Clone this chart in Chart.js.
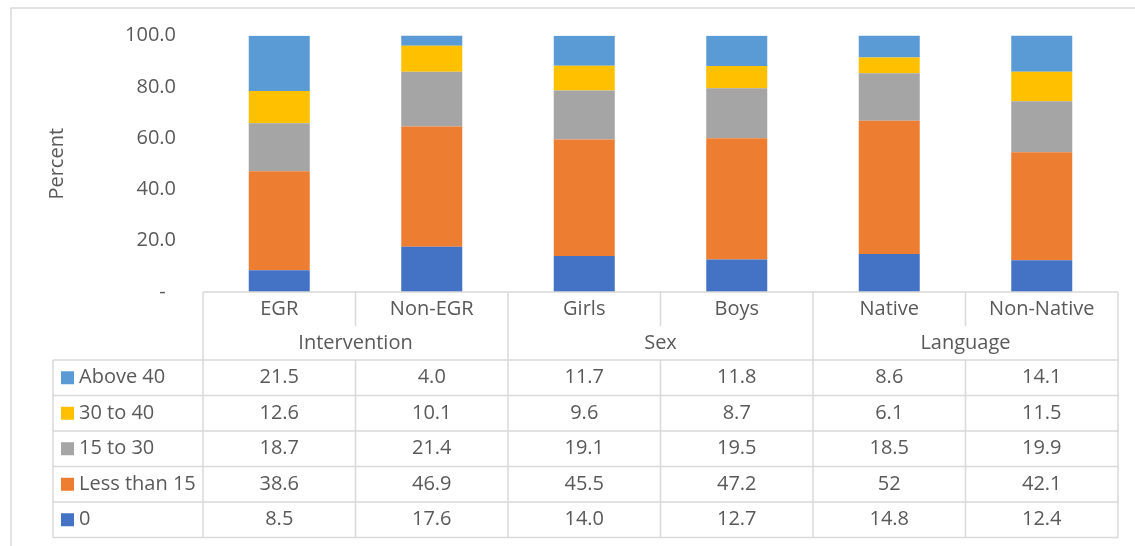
<!DOCTYPE html>
<html>
<head>
<meta charset="utf-8">
<script src="https://cdn.jsdelivr.net/npm/chart.js@4/dist/chart.umd.min.js"></script>
<style>
  html, body { margin: 0; padding: 0; background: #fff; }
  #wrap { position: relative; width: 1135px; height: 546px; }
</style>
</head>
<body>
<div id="wrap"><canvas id="chart"></canvas></div>
<script>
// Categories and their groups (group name, first index, last index)
const categories = ['EGR', 'Non-EGR', 'Girls', 'Boys', 'Native', 'Non-Native'];
const groups = [['Intervention', 0, 1], ['Sex', 2, 3], ['Language', 4, 5]];

// Series values as shown in the data table
const zero = ['8.5', '17.6', '14.0', '12.7', '14.8', '12.4'];
const lessThan15 = ['38.6', '46.9', '45.5', '47.2', '52', '42.1'];
const from15to30 = ['18.7', '21.4', '19.1', '19.5', '18.5', '19.9'];
const from30to40 = ['12.6', '10.1', '9.6', '8.7', '6.1', '11.5'];
const above40 = ['21.5', '4.0', '11.7', '11.8', '8.6', '14.1'];

const yTickLabels = ['-  ', '20.0', '40.0', '60.0', '80.0', '100.0'];

const TEXT = '#595959';
const LINE = '#d9d9d9';
const FONT = "'Open Sans', sans-serif";
const FONT_SIZE = 20;

// stacked bottom to top
const series = [
    { label: '0', values: zero, color: '#4472C4' },
    { label: 'Less than 15', values: lessThan15, color: '#ED7D31' },
    { label: '15 to 30', values: from15to30, color: '#A5A5A5' },
    { label: '30 to 40', values: from30to40, color: '#FFC000' },
    { label: 'Above 40', values: above40, color: '#5B9BD5' }
];

// Frame around the whole chart
const framePlugin = {
    id: 'frame',
    beforeDraw(chart) {
        const ctx = chart.ctx;
        ctx.save();
        ctx.strokeStyle = LINE;
        ctx.lineWidth = 1.5;
        ctx.strokeRect(11, 8, 1200, 600);
        ctx.restore();
    }
};

// Data table under the plot, Excel style
const dataTablePlugin = {
    id: 'dataTable',
    afterDraw(chart) {
        const ctx = chart.ctx;
        const x = chart.scales.x;
        const area = chart.chartArea;
        const colW = (area.right - area.left) / categories.length;
        const edge = i => area.left + i * colW;

        const top = area.bottom;
        const headerBottom = top + 34;
        const groupBottom = headerBottom + 34;
        const rowH = 35.5;
        const rows = series.slice().reverse();
        const tableBottom = groupBottom + rowH * rows.length;
        const legendLeft = 53;

        ctx.save();
        ctx.strokeStyle = LINE;
        ctx.lineWidth = 1.5;
        ctx.beginPath();
        // top line of the header
        ctx.moveTo(area.left, top);
        ctx.lineTo(area.right, top);
        // horizontal lines of the data rows
        for (let r = 0; r <= rows.length; r++) {
            const y = groupBottom + r * rowH;
            ctx.moveTo(legendLeft, y);
            ctx.lineTo(area.right, y);
        }
        // left edge of legend column
        ctx.moveTo(legendLeft, groupBottom);
        ctx.lineTo(legendLeft, tableBottom);
        // column edges, inner ones skip the group row
        const groupEdges = new Set();
        groups.forEach(g => { groupEdges.add(g[1]); groupEdges.add(g[2] + 1); });
        for (let i = 0; i <= categories.length; i++) {
            const xx = edge(i);
            if (groupEdges.has(i)) {
                ctx.moveTo(xx, top);
                ctx.lineTo(xx, tableBottom);
            } else {
                ctx.moveTo(xx, top);
                ctx.lineTo(xx, headerBottom);
                ctx.moveTo(xx, groupBottom);
                ctx.lineTo(xx, tableBottom);
            }
        }
        ctx.stroke();

        ctx.fillStyle = TEXT;
        ctx.font = FONT_SIZE + 'px ' + FONT;
        ctx.textAlign = 'center';
        ctx.textBaseline = 'middle';

        categories.forEach((c, i) => {
            ctx.fillText(c, x.getPixelForValue(i), (top + headerBottom) / 2);
        });
        groups.forEach(g => {
            const cx = (edge(g[1]) + edge(g[2] + 1)) / 2;
            ctx.fillText(g[0], cx, (headerBottom + groupBottom) / 2);
        });

        rows.forEach((s, r) => {
            const cy = groupBottom + r * rowH + rowH / 2;
            ctx.textAlign = 'center';
            ctx.fillStyle = TEXT;
            s.values.forEach((v, i) => {
                ctx.fillText(v, x.getPixelForValue(i), cy);
            });
            // legend key
            ctx.fillStyle = s.color;
            ctx.fillRect(legendLeft + 8, cy - 6.5, 13, 13);
            ctx.fillStyle = TEXT;
            ctx.textAlign = 'left';
            ctx.fillText(s.label, legendLeft + 26, cy);
        });
        ctx.restore();
    }
};

Chart.defaults.font.family = FONT;
Chart.defaults.font.size = FONT_SIZE;
Chart.defaults.color = TEXT;

new Chart(document.getElementById('chart'), {
    type: 'bar',
    data: {
        labels: categories,
        datasets: series.map(s => ({
            label: s.label,
            data: s.values.map(Number),
            backgroundColor: s.color,
            borderWidth: 0,
            barPercentage: 0.4,
            categoryPercentage: 1.0
        }))
    },
    options: {
        responsive: true,
        maintainAspectRatio: false,
        animation: false,
        layout: {
            padding: { left: 45, right: 17, top: 35.5, bottom: 254 }
        },
        plugins: {
            legend: { display: false },
            tooltip: { enabled: false }
        },
        scales: {
            x: {
                stacked: true,
                display: false
            },
            y: {
                stacked: true,
                min: 0,
                max: 100,
                border: { display: false },
                grid: { display: false, drawTicks: false },
                ticks: {
                    stepSize: 20,
                    padding: 27,
                    callback: (v, i) => yTickLabels[i]
                },
                title: {
                    display: true,
                    text: 'Percent',
                    padding: 0
                },
                afterFit(axis) {
                    axis.width = 203 - 45;
                    // the large tick padding would otherwise push the plot down
                    axis.paddingTop = 0;
                    axis.paddingBottom = 0;
                }
            }
        }
    },
    plugins: [framePlugin, dataTablePlugin]
});
</script>
</body>
</html>
